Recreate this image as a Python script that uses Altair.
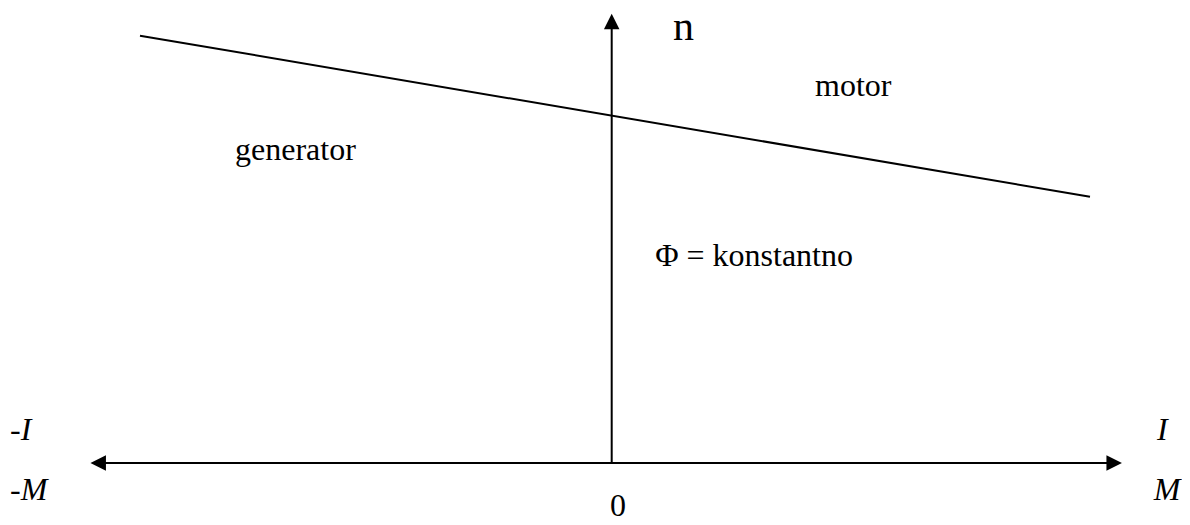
import altair as alt
import pandas as pd

# coordinate system: 1 unit = 100 px, origin at the axes crossing
X_DOMAIN = [-6.037, 5.703]
Y_DOMAIN = [-0.54, 4.55]

# speed characteristic n(I) at constant flux
line_x = [-4.717, 4.783]
line_n = [4.273, 2.663]

# axes (shafts) and arrowheads
axis_x1 = [-5.135, 0.0]
axis_x2 = [5.025, 0.0]
axis_y1 = [0.0, 0.0]
axis_y2 = [0.0, 4.415]
head_x = [5.025, -5.135, 0.0]
head_y = [0.0, 0.0, 4.415]
head_angle = [0, 180, 270]

# labels
plain_text = ["motor", "generator", "Φ = konstantno", "0"]
plain_x = [2.033, -3.767, 2.413, 0.063]
plain_y = [3.67, 3.03, 1.97, -0.53]
plain_align = ["left", "left", "right", "center"]

italic_text = ["-I", "-M", "I", "M"]
italic_x = [-6.017, -6.017, 5.453, 5.42]
italic_y = [0.23, -0.37, 0.23, -0.37]

n_text = ["n"]
n_x = [0.613]
n_y = [4.23]

FONT = "Liberation Serif"
W, H = 1174, 509

xs = alt.Scale(domain=X_DOMAIN, nice=False, zero=False)
ys = alt.Scale(domain=Y_DOMAIN, nice=False, zero=False)

line_df = pd.DataFrame({"I": line_x, "n": line_n})
line = alt.Chart(line_df).mark_line(color="black", strokeWidth=2).encode(
    x=alt.X("I:Q", scale=xs, axis=None),
    y=alt.Y("n:Q", scale=ys, axis=None),
)

axes_df = pd.DataFrame({"x1": axis_x1, "x2": axis_x2, "y1": axis_y1, "y2": axis_y2})
axes = alt.Chart(axes_df).mark_rule(color="black", strokeWidth=2).encode(
    x=alt.X("x1:Q", scale=xs, axis=None),
    x2="x2:Q",
    y=alt.Y("y1:Q", scale=ys, axis=None),
    y2="y2:Q",
)

heads_df = pd.DataFrame({"x": head_x, "y": head_y, "ang": head_angle})
heads = alt.Chart(heads_df).mark_point(
    shape="M1,0L-1,-1L-1,1Z", filled=True, opacity=1, color="black", size=240, strokeWidth=0
).encode(
    x=alt.X("x:Q", scale=xs, axis=None),
    y=alt.Y("y:Q", scale=ys, axis=None),
    angle=alt.Angle("ang:Q", scale=None),
)

layers = [line, axes, heads]

for t, x, y, a in zip(plain_text, plain_x, plain_y, plain_align):
    df = pd.DataFrame({"t": [t], "x": [x], "y": [y]})
    layers.append(
        alt.Chart(df).mark_text(font=FONT, fontSize=32, align=a, baseline="alphabetic", color="black").encode(
            x=alt.X("x:Q", scale=xs, axis=None),
            y=alt.Y("y:Q", scale=ys, axis=None),
            text="t:N",
        )
    )

it_df = pd.DataFrame({"t": italic_text, "x": italic_x, "y": italic_y})
layers.append(
    alt.Chart(it_df).mark_text(font=FONT, fontSize=32, fontStyle="italic", align="left", baseline="alphabetic", color="black").encode(
        x=alt.X("x:Q", scale=xs, axis=None),
        y=alt.Y("y:Q", scale=ys, axis=None),
        text="t:N",
    )
)

n_df = pd.DataFrame({"t": n_text, "x": n_x, "y": n_y})
layers.append(
    alt.Chart(n_df).mark_text(font=FONT, fontSize=42, align="left", baseline="alphabetic", color="black").encode(
        x=alt.X("x:Q", scale=xs, axis=None),
        y=alt.Y("y:Q", scale=ys, axis=None),
        text="t:N",
    )
)

chart = alt.layer(*layers).properties(
    width=W, height=H, padding=0, autosize=alt.AutoSizeParams(type="none"), background="white"
).configure_view(stroke=None)

chart.save("out.html", embed_options={"renderer": "svg", "actions": False})
